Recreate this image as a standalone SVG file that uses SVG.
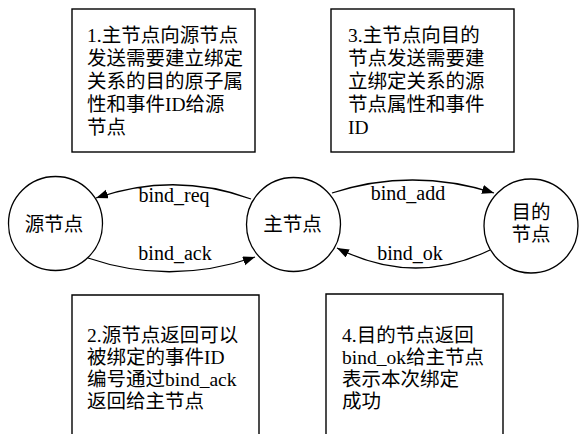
<svg xmlns="http://www.w3.org/2000/svg" width="581" height="434" viewBox="0 0 581 434">
<style>
.box{fill:#fff;stroke:#000;stroke-width:1.4}
.node{fill:#fff;stroke:#000;stroke-width:1.3}
.edge{fill:none;stroke:#000;stroke-width:1.3}
text{font-family:"Liberation Serif","Noto Sans CJK SC",serif;font-size:19.5px;fill:#000}
.lbl{font-size:20px;text-anchor:middle}
.c{text-anchor:middle}
</style>
<defs>
<marker id="arr" markerUnits="userSpaceOnUse" markerWidth="13" markerHeight="10" refX="12" refY="4.5" orient="auto">
<path d="M0,0 L12,4.5 L0,9 z" fill="#000"/>
</marker>
</defs>
<rect width="581" height="434" fill="#fff"/>
<g id="note1">
<rect class="box" x="72" y="9" width="183" height="143"/>
<text x="87" y="42">1.主节点向源节点</text>
<text x="87" y="65">发送需要建立绑定</text>
<text x="87" y="88">关系的目的原子属</text>
<text x="87" y="111">性和事件ID给源</text>
<text x="87" y="134">节点</text>
</g>
<g id="note3">
<rect class="box" x="331" y="9" width="183" height="143"/>
<text x="348" y="42">3.主节点向目的</text>
<text x="348" y="65">节点发送需要建</text>
<text x="348" y="88">立绑定关系的源</text>
<text x="348" y="111">节点属性和事件</text>
<text x="348" y="134">ID</text>
</g>
<g id="note2">
<path class="box" d="M72,436 V295 H259 V436"/>
<text x="87" y="342">2.源节点返回可以</text>
<text x="87" y="364">被绑定的事件ID</text>
<text x="87" y="386">编号通过bind_ack</text>
<text x="87" y="408">返回给主节点</text>
</g>
<g id="note4">
<path class="box" d="M326,436 V294 H503 V436"/>
<text x="342" y="342">4.目的节点返回</text>
<text x="342" y="364">bind_ok给主节点</text>
<text x="342" y="386">表示本次绑定</text>
<text x="342" y="408">成功</text>
</g>
<g id="src">
<circle class="node" cx="55.5" cy="223.5" r="47"/>
<text class="c" x="54" y="231">源节点</text>
</g>
<g id="master">
<circle class="node" cx="293.5" cy="224.5" r="47"/>
<text class="c" x="292.5" y="231">主节点</text>
</g>
<g id="dst">
<circle class="node" cx="531" cy="226" r="47"/>
<text class="c" x="531" y="219">目的</text>
<text class="c" x="531" y="241">节点</text>
</g>
<g id="edges">
<path class="edge" d="M251,199 Q175,171 96,198" marker-end="url(#arr)"/>
<path class="edge" d="M88,258 Q170,286 255,257" marker-end="url(#arr)"/>
<path class="edge" d="M332,193 Q412,167 494,193" marker-end="url(#arr)"/>
<path class="edge" d="M490,250 Q414,287 337,248" marker-end="url(#arr)"/>
<text class="lbl" x="174" y="202">bind_req</text>
<text class="lbl" x="175" y="260">bind_ack</text>
<text class="lbl" x="408" y="200">bind_add</text>
<text class="lbl" x="410" y="260">bind_ok</text>
</g>
</svg>
